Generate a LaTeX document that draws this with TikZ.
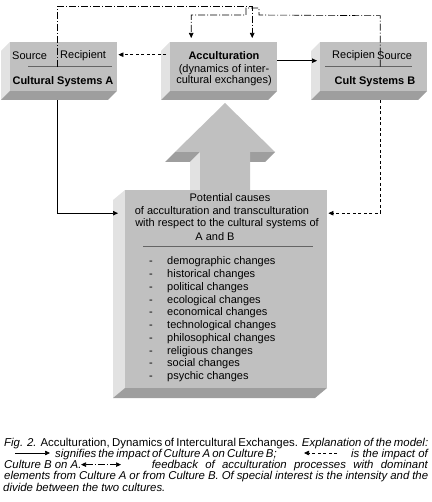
\documentclass[tikz,border=0pt]{standalone}
\usepackage{fontspec}
\setmainfont{Liberation Sans}
\usetikzlibrary{arrows.meta}
\definecolor{facegray}{RGB}{192,192,192}
\definecolor{sidegray}{RGB}{226,226,226}
\definecolor{basegray}{RGB}{158,158,158}
\definecolor{rulegray}{RGB}{100,100,100}

\begin{document}
\begin{tikzpicture}[x=1pt, y=-1pt,
  front/.style={fill=facegray, inner sep=0pt, anchor=north west},
  boxtxt/.style={font=\fontsize{11}{11}\selectfont, inner sep=0pt},
  boldtxt/.style={font=\fontsize{11}{11}\selectfont\bfseries, inner sep=0pt},
  captxt/.style={font=\fontsize{11.4}{11}\selectfont\itshape, inner sep=0pt, anchor=base west},
  tip/.style={-{Triangle[length=5pt,width=4.5pt]}},
  impact/.style={tip, line width=0.7pt},
  back/.style={tip, line width=0.7pt, dash pattern=on 3pt off 2.5pt},
  feed/.style={tip, line width=0.6pt, dash pattern=on 7pt off 2pt on 1pt off 2pt}]

\useasboundingbox (0,0) rectangle (431,502);

% --- Three top blocks (side, base, front) ---
\foreach \x/\name in {10/boxA, 170/boxAcc, 320/boxB} {
  \fill[sidegray] (\x,42) -- (\x,91) -- (\x-9,100) -- (\x-9,51) -- cycle;
  \fill[basegray] (\x,91) -- (\x+107,91) -- (\x+98,100) -- (\x-9,100) -- cycle;
  \node[front, minimum width=107pt, minimum height=49pt] (\name) at (\x,42) {};
}

% --- Big upward arrow ---
\fill[basegray] (175,152) -- (200,152) -- (190,162) -- (165,162) -- cycle;
\fill[basegray] (250,152) -- (275,152) -- (265,162) -- (250,162) -- cycle;
\fill[sidegray] (200,152) -- (200,190) -- (190,200) -- (190,162) -- cycle;
\fill[facegray] (225,103) -- (275,152) -- (250,152) -- (250,190) -- (200,190)
  -- (200,152) -- (175,152) -- cycle;

% --- Causes block ---
\fill[sidegray] (125,190) -- (125,388) -- (113,398) -- (113,200) -- cycle;
\fill[basegray] (125,388) -- (327,388) -- (315,398) -- (113,398) -- cycle;
\node[front, minimum width=202pt, minimum height=198pt] (causes) at (125,190) {};

% --- Texts of the top blocks ---
\node[boxtxt, anchor=west] (srcA) at (12,56) {Source};
\node[boxtxt, anchor=west] (rcpA) at (60,56) {Recipient};
\draw[rulegray, line width=0.6pt] (28,66) -- (112,66);
\node[boldtxt] (sysA) at (63,82) {Cultural Systems A};

\node[boldtxt] (accTitle) at (224,56) {Acculturation};
\node[boxtxt, align=center] (accSub) at (224,75.5) {(dynamics of inter-\\cultural exchanges)};

\node[boxtxt, anchor=west] (rcpB) at (332,56) {Recipien};
\node[boxtxt, anchor=west] (srcB) at (377,56) {Source};
\draw[rulegray, line width=0.6pt] (325,66) -- (412,66);
\node[boldtxt] (sysB) at (375,82) {Cult Systems B};

% --- Texts of the causes block ---
\node[boxtxt] (cause1) at (230,198) {Potential causes};
\node[boxtxt] (cause2) at (222,211) {of acculturation and transculturation};
\node[boxtxt] (cause3) at (227,224) {with respect to the cultural systems of};
\node[boxtxt] (cause4) at (215,237) {A and B};
\draw[rulegray, line width=0.6pt] (143,246) -- (313,246);
\foreach \kind [count=\i from 0] in {demographic, historical, political, ecological,
    economical, technological, philosophical, religious, social, psychic}
  \node[boxtxt, anchor=west] (chg\i) at (149,{262+12.75*\i}) {\makebox[18pt][l]{-}\kind\ changes};

% --- Connectors ---
\draw[back] ([xshift=-4pt,yshift=12pt]boxAcc.west) -- ([xshift=1pt,yshift=12pt]boxA.east);
\draw[impact] ([yshift=6pt]boxAcc.east) -- ([xshift=-3pt,yshift=6pt]boxB.west);
\draw[impact] ([xshift=-6.5pt,yshift=-9pt]boxA.south) |- ([xshift=-7pt,yshift=76pt]causes.west);
\draw[back] ([xshift=6.5pt,yshift=-9pt]boxB.south) |- ([xshift=1pt,yshift=76pt]causes.east);

% feedback lines over the top
\draw[feed] ([xshift=-6.5pt]boxA.center) -- ++(0,-60) -| ([xshift=28.5pt,yshift=4pt]boxAcc.north);
\draw[feed] ([xshift=6.5pt]boxB.center) -- ++(0,-51) -- (259,15) -- (259,8) -- (246,8)
  -- (246,15) -| ([xshift=-32.5pt,yshift=4pt]boxAcc.north);

% --- Caption ---
\node[captxt] (cap1) at (4,446) {\makebox[424pt][s]{Fig. 2. \textup{Acculturation, Dynamics of Intercultural Exchanges.} Explanation of the model:}};
\coordinate (keyA1) at (15,453);
\coordinate (keyA2) at (50,453);
\draw[impact] (keyA1) -- (keyA2);
\node[captxt] (cap2a) at (55,457.3) {\makebox[213pt][s]{signifies the impact of Culture A on Culture B;}};
\coordinate (keyB1) at (337,453);
\coordinate (keyB2) at (304,453);
\draw[back] (keyB1) -- (keyB2);
\node[captxt, anchor=base east] (cap2b) at (428,457.3) {is the impact of};
\node[captxt] (cap3a) at (4,468.6) {Culture B on A.};
\coordinate (keyC1) at (81,464.6);
\coordinate (keyC2) at (121,464.6);
\draw[feed, {Triangle[length=5pt,width=4.5pt]}-{Triangle[length=5pt,width=4.5pt]}] (keyC1) -- (keyC2);
\node[captxt, anchor=base east] (cap3b) at (428,468.6) {\makebox[276pt][s]{feedback of acculturation processes with dominant}};
\node[captxt] (cap4) at (4,479.9) {\makebox[424pt][s]{elements from Culture A or from Culture B. Of special interest is the intensity and the}};
\node[captxt] (cap5) at (3,491.2) {divide between the two cultures.};

\end{tikzpicture}
\end{document}
